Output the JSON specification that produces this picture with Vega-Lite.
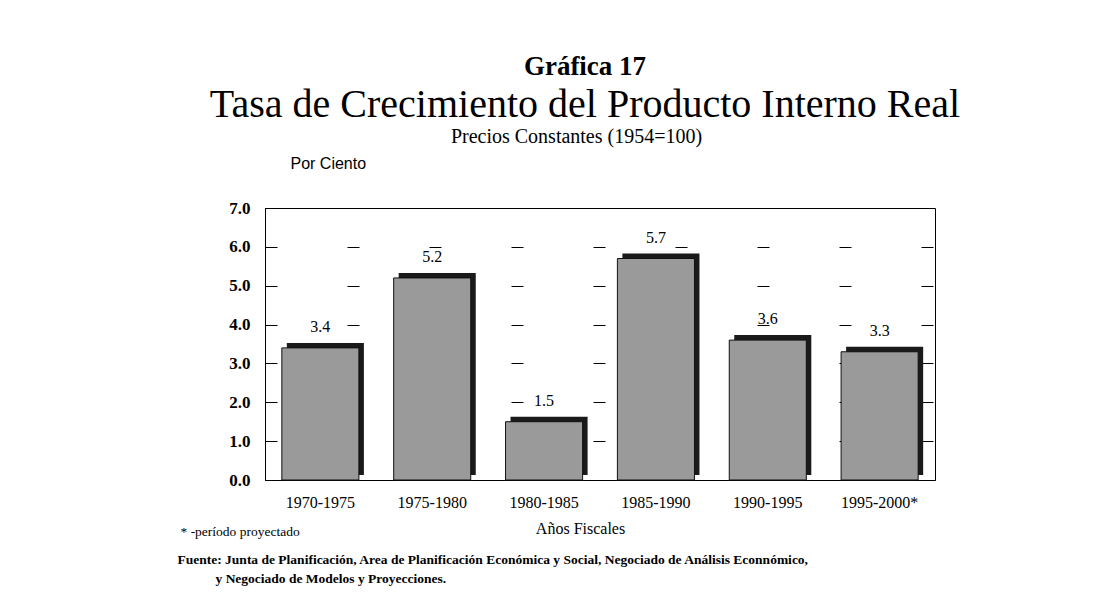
{
  "$schema": "https://vega.github.io/schema/vega-lite/v6.json",
  "autosize": {"type": "none"},
  "width": 670,
  "height": 272,
  "padding": {"left": 265, "top": 208, "right": 183, "bottom": 136},
  "background": "white",
  "config": {
    "view": {"stroke": "#000", "strokeWidth": 1},
    "font": "Liberation Serif"
  },
  "title": {
    "text": "Gráfica 17",
    "subtitle": "Tasa de Crecimiento del Producto Interno Real",
    "font": "Liberation Serif",
    "fontSize": 27,
    "fontWeight": "bold",
    "color": "#000",
    "subtitleFont": "Liberation Serif",
    "subtitleFontSize": 40,
    "subtitleColor": "#000",
    "subtitlePadding": 4,
    "anchor": "middle",
    "dx": -15,
    "offset": 0
  },
  "data": {
    "values": [
      {"periodo": "1970-1975", "tasa": 3.4},
      {"periodo": "1975-1980", "tasa": 5.2},
      {"periodo": "1980-1985", "tasa": 1.5},
      {"periodo": "1985-1990", "tasa": 5.7},
      {"periodo": "1990-1995", "tasa": 3.6},
      {"periodo": "1995-2000*", "tasa": 3.3}
    ]
  },
  "encoding": {
    "y": {
      "field": "tasa",
      "type": "quantitative",
      "scale": {"domain": [0, 7]},
      "axis": {
        "values": [0, 1, 2, 3, 4, 5, 6, 7],
        "format": ".1f",
        "labelFont": "Liberation Serif",
        "labelFontWeight": "bold",
        "labelFontSize": 17,
        "labelColor": "#000",
        "labelPadding": 15,
        "ticks": false,
        "domain": true,
        "domainColor": "#000",
        "grid": true,
        "gridColor": "#000",
        "gridDash": [12, 70],
        "gridWidth": 1.2,
        "title": "Por Ciento",
        "titleFont": "Liberation Sans",
        "titleFontSize": 16,
        "titleFontWeight": "normal",
        "titleColor": "#000",
        "titleAngle": 0,
        "titleAlign": "left",
        "titleBaseline": "alphabetic",
        "titleX": 25,
        "titleY": -40
      }
    }
  },
  "resolve": {"axis": {"x": "independent"}},
  "layer": [
    {
      "mark": {"type": "bar", "fill": "#1a1a1a", "xOffset": 5, "yOffset": -5, "width": {"band": 0.83}},
      "encoding": {
        "x": {
          "field": "periodo",
          "type": "nominal",
          "sort": null,
          "scale": {"paddingInner": 0.17, "paddingOuter": 0.08},
          "axis": {
            "orient": "bottom",
            "labels": false,
            "ticks": false,
            "domain": false,
            "title": "Fuente: Junta de Planificación, Area de Planificación Económica y Social, Negociado de Análisis Econnómico,",
            "titleFont": "Liberation Serif",
            "titleFontSize": 13.5,
            "titleFontWeight": "bold",
            "titleColor": "#000",
            "titleAlign": "left",
            "titleAnchor": "start",
            "titleBaseline": "alphabetic",
            "titleX": -88,
            "titleY": 83
          }
        }
      }
    },
    {
      "mark": {"type": "text", "opacity": 0, "text": ""},
      "encoding": {
        "x": {
          "field": "periodo",
          "type": "nominal",
          "sort": null,
          "axis": {
            "orient": "bottom",
            "labels": false,
            "ticks": false,
            "domain": false,
            "title": "y  Negociado de Modelos y Proyecciones.",
            "titleFont": "Liberation Serif",
            "titleFontSize": 13.5,
            "titleFontWeight": "bold",
            "titleColor": "#000",
            "titleAlign": "left",
            "titleAnchor": "start",
            "titleBaseline": "alphabetic",
            "titleX": -50,
            "titleY": 102
          }
        }
      }
    },
    {
      "mark": {"type": "point", "opacity": 0},
      "encoding": {
        "x": {
          "field": "periodo",
          "type": "nominal",
          "sort": null,
          "axis": {
            "orient": "bottom",
            "labels": false,
            "ticks": false,
            "domain": false,
            "title": "* -período  proyectado",
            "titleFont": "Liberation Serif",
            "titleFontSize": 13.5,
            "titleFontWeight": "normal",
            "titleColor": "#000",
            "titleAlign": "left",
            "titleAnchor": "start",
            "titleBaseline": "alphabetic",
            "titleX": -85,
            "titleY": 55
          }
        }
      }
    },
    {
      "mark": {"type": "bar", "fill": "#9a9a9a", "stroke": "#111", "strokeWidth": 1, "width": {"band": 0.83}},
      "encoding": {
        "x": {
          "field": "periodo",
          "type": "nominal",
          "sort": null,
          "axis": {
            "orient": "bottom",
            "labelAngle": 0,
            "labelFont": "Liberation Serif",
            "labelFontSize": 16,
            "labelColor": "#000",
            "labelPadding": 14,
            "ticks": false,
            "domain": true,
            "domainColor": "#000",
            "title": "Años Fiscales",
            "titleFont": "Liberation Serif",
            "titleFontSize": 16,
            "titleFontWeight": "normal",
            "titleColor": "#000",
            "titleX": 315,
            "titleY": 53,
            "titleBaseline": "alphabetic"
          }
        }
      }
    },
    {
      "mark": {"type": "text", "dy": -16, "fontSize": 16, "font": "Liberation Serif", "color": "#000", "baseline": "alphabetic"},
      "encoding": {
        "x": {
          "field": "periodo",
          "type": "nominal",
          "sort": null,
          "axis": {
            "orient": "top",
            "labels": false,
            "ticks": false,
            "domain": false,
            "title": "Precios Constantes (1954=100)",
            "titleFont": "Liberation Serif",
            "titleFontSize": 20,
            "titleFontWeight": "normal",
            "titleColor": "#000",
            "titleX": 311,
            "titleY": -66,
            "titleBaseline": "alphabetic"
          }
        },
        "text": {"field": "tasa", "type": "quantitative", "format": ".1f"}
      }
    }
  ]
}
